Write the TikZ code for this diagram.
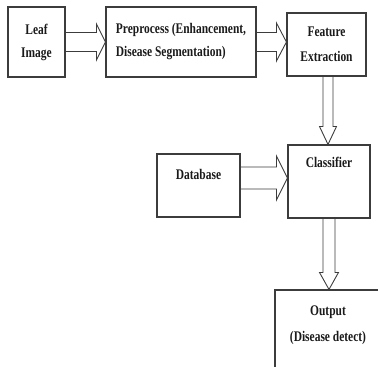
\documentclass[tikz,border=0pt]{standalone}
\usepackage{fontspec}
\setmainfont{Liberation Serif}
\newfontfamily\boxfont[FakeStretch=0.78]{Liberation Serif}
\usetikzlibrary{calc}
\definecolor{lineclr}{HTML}{3C3C3C}
\definecolor{textclr}{HTML}{1A1A1A}

% hollow block arrows: start, tip, half width, head half height, head length
\newcommand{\hollowright}[5]{%
  \draw[hollow] let \p1=(#1), \p2=(#2) in
    (\x1,\y1+#3) -- (\x2-#5,\y1+#3) -- (\x2-#5,\y1+#4) -- (\x2,\y1)
    -- (\x2-#5,\y1-#4) -- (\x2-#5,\y1-#3) -- (\x1,\y1-#3);}
\newcommand{\hollowdown}[5]{%
  \draw[hollow] let \p1=(#1), \p2=(#2) in
    (\x1-#3,\y1) -- (\x1-#3,\y2+#5) -- (\x1-#4,\y2+#5) -- (\x1,\y2)
    -- (\x1+#4,\y2+#5) -- (\x1+#3,\y2+#5) -- (\x1+#3,\y1);}

\begin{document}
\begin{tikzpicture}[x=1pt,y=-1pt,
    box/.style={draw=lineclr,line width=1.1pt,fill=white,inner sep=0pt,
      font=\boxfont\bfseries\fontsize{14.7}{23}\selectfont,text=textclr,align=center},
    txt/.style={font=\boxfont\bfseries\fontsize{14.7}{14}\selectfont,text=textclr,
      inner sep=0pt,align=center},
    hollow/.style={draw=lineclr,line width=0.9pt,line join=miter}]
  \useasboundingbox (0,0) rectangle (378,367);
  \clip (0,0) rectangle (378,367);

  % top row
  \node[box,minimum width=57pt,minimum height=70pt] (leaf) at (36.5,42)
    {Leaf\\Image};
  \node[box,minimum width=150pt,minimum height=70pt,align=left] (pre) at (181,42)
    {Preprocess (Enhancement,\\Disease Segmentation)};
  \node[box,minimum width=79pt,minimum height=63pt] (feat) at (326.5,44.5)
    {Feature\\[2pt]Extraction};

  % middle row
  \node[box,minimum width=83pt,minimum height=63pt,
    label={[txt,anchor=north,yshift=-15.5pt]north:Database}] (db) at (198.5,185.5) {};
  \node[box,minimum width=82pt,minimum height=73pt,
    label={[txt,anchor=north,yshift=-12.5pt]north:Classifier}] (cls) at (329,181.5) {};

  % result, cut by the page edge
  \node[box,minimum width=106pt,minimum height=100pt,
    label={[txt,anchor=north,yshift=-16pt]north:{Output\\[12pt](Disease detect)}}]
    (out) at (328,340) {};

  % arrows
  \hollowright{leaf.east}{pre.west}{9.5pt}{18pt}{9pt}
  \hollowright{pre.east}{feat.west}{9.5pt}{19pt}{10pt}
  \hollowright{$(db.east)+(0,-7.5)$}{cls.west}{11pt}{22pt}{11pt}
  \hollowdown{$(feat.south)+(1.5,0)$}{cls.north}{5pt}{8.5pt}{18pt}
  \hollowdown{cls.south}{out.north}{6pt}{9.5pt}{17pt}
\end{tikzpicture}
\end{document}
